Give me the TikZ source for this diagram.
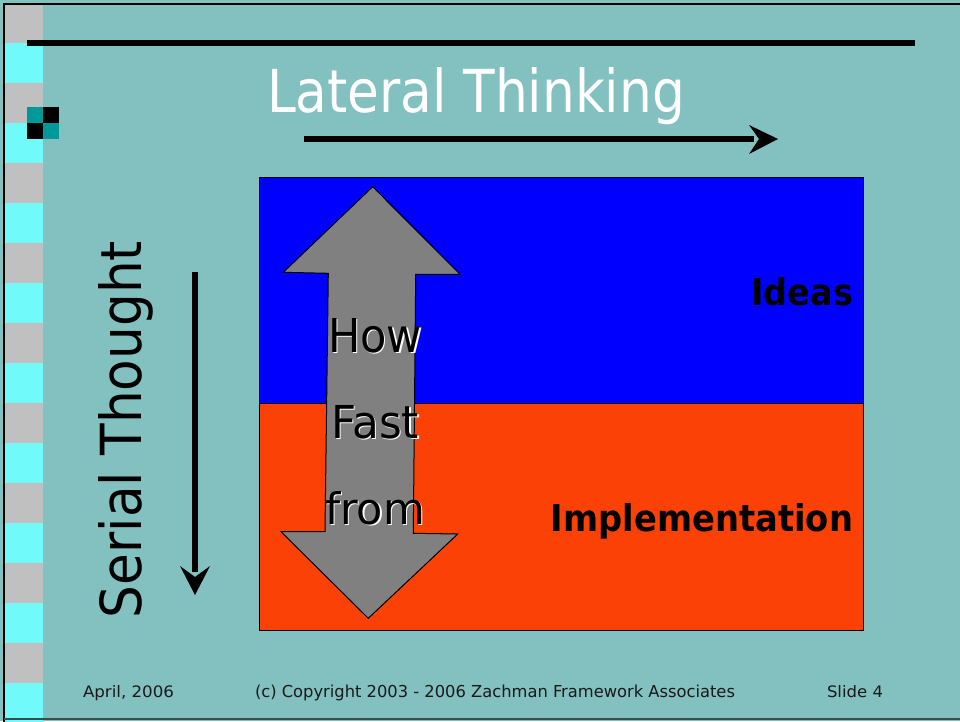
\documentclass[tikz,border=0pt]{standalone}
\usepackage{fontspec}
\setmainfont{DejaVu Sans}
\usepackage{graphicx}
\definecolor{bg}{RGB}{131,192,192}
\definecolor{stripgray}{RGB}{192,192,192}
\definecolor{stripcyan}{RGB}{112,250,250}
\definecolor{iconteal}{RGB}{0,153,153}
\definecolor{orng}{RGB}{251,65,5}
\definecolor{arrgray}{RGB}{128,128,128}
\definecolor{footline}{RGB}{50,80,80}
\definecolor{foottext}{RGB}{25,25,25}
\newlength\pxu
\setlength\pxu{0.75pt}
\newcommand\fitbox[3]{\resizebox{#1\pxu}{#2\pxu}{#3}}
\begin{document}
\begin{tikzpicture}[x=0.75pt,y=-0.75pt,
  txt/.style={inner sep=0pt, outer sep=0pt},
  thickline/.style={line width=4.5pt},
  band/.style={draw=black, line width=0.75pt}]
\useasboundingbox (0,0) rectangle (960,721);
\fill[bg] (0,0) rectangle (960,721);
% left strip
\foreach \k in {0,...,8} {
  \fill[stripgray] (5,3+80*\k) rectangle (43,43+80*\k);
  \fill[stripcyan] (5,43+80*\k) rectangle (43,83+80*\k);
}
% frame
\draw[black, line width=1.5pt] (4,725) -- (4,4) -- (965,4);
\draw[footline, line width=1.5pt] (4,719) -- (965,719);
% icon
\fill[iconteal] (27,107) rectangle (43,123);
\fill[black] (43,107) rectangle (59,123);
\fill[black] (27,123) rectangle (43,139);
\fill[iconteal] (43,123) rectangle (59,139);
% top rule
\coordinate (ruleA) at (27,43);
\coordinate (ruleB) at (915,43);
\draw[thickline] (ruleA) -- (ruleB);
% title
\node[txt, anchor=base west, white] (title) at (267,112) {\fitbox{418}{45}{Lateral Thinking}};
% lateral arrow
\coordinate (latA) at (304,139);
\coordinate (latB) at (778,139);
\draw[thickline] (latA) -- (754,139);
\fill (latB) -- (749,125) -- (759,139) -- (749,154) -- cycle;
% serial text and arrow
\node[txt, rotate=90, anchor=base west] (serial) at (141,618) {\fitbox{377}{43}{Serial Thought}};
\coordinate (serA) at (195,272);
\coordinate (serB) at (195,595);
\draw[thickline] (serA) -- (195,572);
\fill (serB) -- (180,566) -- (195,577) -- (210,566) -- cycle;
% bands
\draw[band, fill=blue] (259,177) rectangle (863,403);
\draw[band, fill=orng] (259,403) rectangle (863,630);
\node[txt, anchor=base east] (ideas) at (853,305) {\fitbox{102}{28}{\bfseries Ideas}};
\node[txt, anchor=base east] (impl) at (853,531) {\fitbox{302}{28}{\bfseries Implementation}};
% double arrow
\draw[fill=arrgray, draw=black, line width=0.75pt]
  (372.7,186.7) -- (460,274.3) -- (415.7,274.3) -- (413.3,533.3) -- (457.7,534)
  -- (368.3,618.3) -- (281,531.7) -- (325,531.7) -- (328.3,273.3) -- (283.3,272.3) -- cycle;
% arrow words with white shadow
\foreach \wrd/\xx/\yy/\ww/\hh in {How/328/352/94/34, Fast/331/438/88/33, from/325/524/100/33} {
  \node[txt, anchor=base west, white] at (\xx+1.5,\yy+1.5) {\fitbox{\ww}{\hh}{\wrd}};
  \node[txt, anchor=base west, black] at (\xx,\yy) {\fitbox{\ww}{\hh}{\wrd}};
}
% footer
\node[txt, anchor=base west, foottext] (date) at (83,697) {\fitbox{91}{12}{April, 2006}};
\node[txt, anchor=base west, foottext] (copy) at (255,697) {\fitbox{480}{12.5}{(c) Copyright 2003 - 2006 Zachman Framework Associates}};
\node[txt, anchor=base west, foottext] (slide) at (827,697) {\fitbox{56}{12}{Slide 4}};
\end{tikzpicture}
\end{document}
